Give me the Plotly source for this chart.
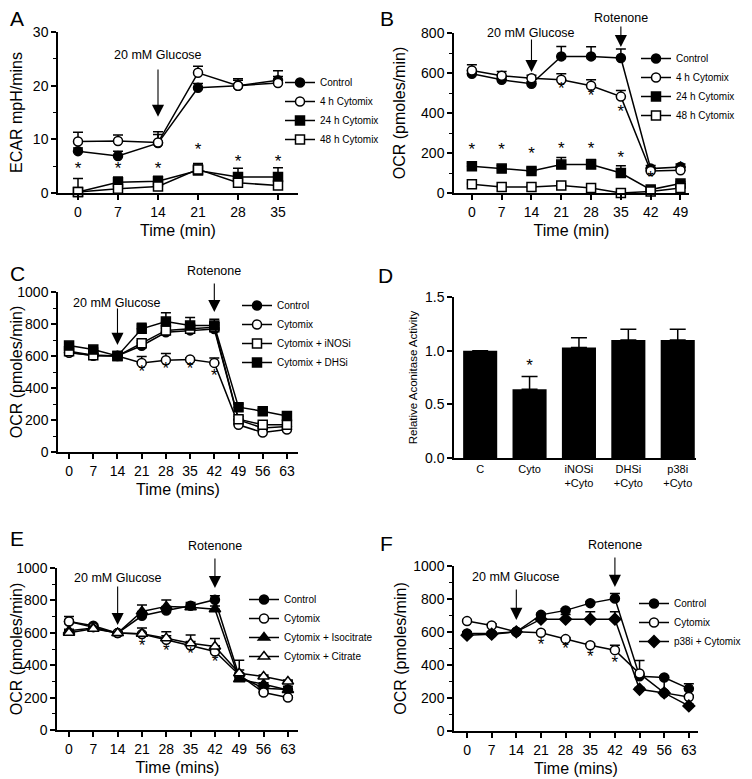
import plotly.graph_objects as go

# the page body keeps an 8 px margin, so the figure is drawn 8 px in and
# sized to end exactly at the window edge
OFF = 8
W, H = 752 - OFF, 779 - OFF
FONT = "Liberation Sans, Arial, sans-serif"

# ---- Panel A: ECAR ----
time_a = [0, 7, 14, 21, 28, 35]
a_control = [7.8, 6.9, 9.3, 19.6, 20.0, 21.0]
a_control_err = [0.6, 0.9, 1.6, 0.8, 1.0, 1.8]
a_4h = [9.6, 9.7, 9.4, 22.4, 20.0, 20.5]
a_4h_err = [1.7, 1.1, 2.0, 1.2, 1.3, 1.2]
a_24h = [0.2, 2.0, 2.2, 4.2, 3.0, 3.0]
a_24h_err = [0.3, 1.0, 0.9, 1.3, 1.6, 1.7]
a_48h = [0.2, 0.8, 1.2, 4.4, 1.9, 1.4]
a_48h_err = [2.5, 0.6, 0.6, 0.8, 0.6, 0.6]
a_star_x = [0, 7, 14, 21, 28, 35]
a_star_y = [4.3, 4.3, 4.3, 7.8, 5.6, 5.6]

# ---- Panel B: OCR ----
time_b = [0, 7, 14, 21, 28, 35, 42, 49]
b_control = [596, 566, 546, 683, 683, 675, 122, 130]
b_control_err = [15, 12, 10, 50, 48, 45, 15, 15]
b_4h = [613, 586, 574, 566, 536, 482, 110, 114]
b_4h_err = [28, 22, 15, 30, 30, 30, 15, 15]
b_24h = [134, 122, 110, 142, 142, 100, 17, 47]
b_24h_err = [15, 15, 15, 35, 25, 36, 10, 10]
b_48h = [44, 30, 30, 37, 25, 0, 8, 25]
b_48h_err = [5, 5, 5, 5, 5, 5, 5, 5]
b_star_x = [0, 7, 14, 21, 28, 35, 42, 49, 21, 28, 35]
b_star_y = [211, 211, 189, 214, 214, 172, 72, 122, 515, 479, 403]

# ---- Panel C: OCR with inhibitors ----
time_c = [0, 7, 14, 21, 28, 35, 42, 49, 56, 63]
c_control = [623, 602, 602, 664, 748, 760, 769, 200, 150, 160]
c_control_err = [10, 10, 5, 20, 25, 30, 40, 25, 30, 20]
c_cyto = [620, 605, 600, 557, 573, 578, 557, 170, 122, 140]
c_cyto_err = [10, 10, 5, 40, 42, 10, 30, 10, 10, 10]
c_inos = [630, 605, 600, 680, 760, 770, 780, 205, 170, 170]
c_inos_err = [10, 10, 5, 15, 15, 15, 20, 15, 15, 15]
c_dhs = [665, 640, 600, 770, 815, 790, 790, 280, 255, 225]
c_dhs_err = [10, 10, 5, 35, 55, 50, 40, 20, 15, 15]
c_star_x = [21, 28, 35, 42]
c_star_y = [494, 515, 515, 473]

# ---- Panel D: aconitase activity ----
d_cats = ["C", "Cyto", "iNOSi<br>+Cyto", "DHSi<br>+Cyto", "p38i<br>+Cyto"]
d_vals = [1.0, 0.64, 1.03, 1.10, 1.10]
d_err = [0, 0.12, 0.09, 0.10, 0.10]
d_star_x = ["Cyto"]
d_star_y = [0.85]

# ---- Panel E: OCR with isocitrate / citrate ----
e_control = [670, 643, 598, 705, 738, 767, 804, 330, 258, 250]
e_control_err = [10, 10, 5, 20, 20, 20, 25, 20, 20, 20]
e_cyto = [670, 635, 598, 592, 557, 522, 485, 340, 231, 200]
e_cyto_err = [30, 10, 5, 10, 25, 25, 35, 90, 10, 10]
e_iso = [612, 630, 598, 732, 763, 758, 746, 313, 282, 247]
e_iso_err = [10, 10, 5, 40, 40, 20, 20, 20, 10, 10]
e_cit = [600, 625, 598, 594, 567, 536, 515, 350, 330, 299]
e_cit_err = [10, 10, 5, 35, 40, 50, 50, 20, 10, 10]
e_star_x = [21, 28, 35, 42]
e_star_y = [515, 485, 464, 416]

# ---- Panel F: OCR with p38 inhibitor ----
f_control = [591, 591, 601, 704, 731, 775, 803, 332, 324, 257]
f_control_err = [10, 10, 5, 10, 10, 10, 30, 10, 10, 30]
f_cyto = [666, 640, 601, 595, 557, 520, 490, 348, 231, 206]
f_cyto_err = [10, 10, 5, 10, 10, 10, 30, 80, 10, 10]
f_p38 = [581, 587, 601, 678, 678, 678, 678, 253, 231, 152]
f_p38_err = [10, 10, 5, 28, 28, 44, 44, 10, 90, 10]
f_star_x = [21, 28, 35, 42]
f_star_y = [514, 490, 445, 409]


def px_x(p):
    return (p - OFF) / W


def px_y(p):
    return 1 - (p - OFF) / H


fig = go.Figure()


def add_series(n, x, y, err, name, symbol, filled, legend):
    suffix = "" if n == 1 else str(n)
    fig.add_trace(go.Scatter(
        x=x, y=y, name=name, mode="lines+markers",
        xaxis="x" + suffix, yaxis="y" + suffix, legend=legend,
        line=dict(color="black", width=1.5),
        marker=dict(symbol=symbol, size=9 if "triangle" not in symbol else 10,
                    color="black" if filled else "white",
                    line=dict(color="black", width=1.5)),
        error_y=dict(type="data", symmetric=False, array=err,
                     arrayminus=[0] * len(err), color="black",
                     thickness=1.5, width=5),
        cliponaxis=False,
    ))


def add_stars(n, x, y):
    suffix = "" if n == 1 else str(n)
    fig.add_trace(go.Scatter(
        x=x, y=y, mode="text", text=["*"] * len(x), showlegend=False,
        xaxis="x" + suffix, yaxis="y" + suffix, cliponaxis=False,
        textfont=dict(size=17, color="black", family=FONT),
        textposition="middle center",
    ))


add_series(1, time_a, a_control, a_control_err, "Control", "circle", True, "legend")
add_series(1, time_a, a_4h, a_4h_err, "4 h Cytomix", "circle", False, "legend")
add_series(1, time_a, a_24h, a_24h_err, "24 h Cytomix", "square", True, "legend")
add_series(1, time_a, a_48h, a_48h_err, "48 h Cytomix", "square", False, "legend")
add_stars(1, a_star_x, a_star_y)

add_series(2, time_b, b_control, b_control_err, "Control", "circle", True, "legend2")
add_series(2, time_b, b_4h, b_4h_err, "4 h Cytomix", "circle", False, "legend2")
add_series(2, time_b, b_24h, b_24h_err, "24 h Cytomix", "square", True, "legend2")
add_series(2, time_b, b_48h, b_48h_err, "48 h Cytomix", "square", False, "legend2")
add_stars(2, b_star_x, b_star_y)

add_series(3, time_c, c_control, c_control_err, "Control", "circle", True, "legend3")
add_series(3, time_c, c_cyto, c_cyto_err, "Cytomix", "circle", False, "legend3")
add_series(3, time_c, c_inos, c_inos_err, "Cytomix + iNOSi", "square", False, "legend3")
add_series(3, time_c, c_dhs, c_dhs_err, "Cytomix + DHSi", "square", True, "legend3")
add_stars(3, c_star_x, c_star_y)

fig.add_trace(go.Bar(
    x=d_cats, y=d_vals, xaxis="x4", yaxis="y4", showlegend=False,
    marker=dict(color="black", line=dict(width=0)), width=0.69,
    error_y=dict(type="data", symmetric=False, array=d_err,
                 arrayminus=[0] * len(d_err), color="black",
                 thickness=1.5, width=8),
))
add_stars(4, d_star_x, d_star_y)

add_series(5, time_c, e_control, e_control_err, "Control", "circle", True, "legend5")
add_series(5, time_c, e_cyto, e_cyto_err, "Cytomix", "circle", False, "legend5")
add_series(5, time_c, e_iso, e_iso_err, "Cytomix + Isocitrate", "triangle-up", True, "legend5")
add_series(5, time_c, e_cit, e_cit_err, "Cytomix + Citrate", "triangle-up", False, "legend5")
add_stars(5, e_star_x, e_star_y)

add_series(6, time_c, f_control, f_control_err, "Control", "circle", True, "legend6")
add_series(6, time_c, f_cyto, f_cyto_err, "Cytomix", "circle", False, "legend6")
add_series(6, time_c, f_p38, f_p38_err, "p38i + Cytomix", "diamond", True, "legend6")
add_stars(6, f_star_x, f_star_y)


def xaxis(n, left, right, rng, ticks, title):
    return dict(
        domain=[px_x(left), px_x(right)], range=rng, anchor="y" + ("" if n == 1 else str(n)),
        tickvals=ticks, showline=True, linecolor="black", linewidth=1.5,
        ticks="outside", ticklen=5, tickwidth=1.5, tickcolor="black",
        showgrid=False, zeroline=False, automargin=False,
        tickfont=dict(size=14, family=FONT, color="black"),
        title=dict(text=title, font=dict(size=16, family=FONT, color="black"), standoff=6),
    )


def yaxis(n, top, bottom, rng, dtick, title, standoff, tsize=16, minor=True, fmt=None):
    ax = dict(
        domain=[px_y(bottom), px_y(top)], range=rng, anchor="x" + ("" if n == 1 else str(n)),
        dtick=dtick, tick0=0, showline=True, linecolor="black", linewidth=1.5,
        ticks="outside", ticklen=5, tickwidth=1.5, tickcolor="black",
        showgrid=False, zeroline=False, automargin=False,
        tickfont=dict(size=14, family=FONT, color="black"),
        title=dict(text=title, font=dict(size=tsize, family=FONT, color="black"), standoff=standoff),
    )
    if minor:
        ax["minor"] = dict(ticks="outside", ticklen=3, tickwidth=1, tickcolor="black",
                           dtick=dtick / 2, showgrid=False)
    if fmt:
        ax["tickformat"] = fmt
    return ax


def legend_at(xpx, ypx):
    return dict(x=px_x(xpx), y=px_y(ypx), xanchor="left", yanchor="top",
                bgcolor="rgba(0,0,0,0)", itemwidth=30, tracegroupgap=0,
                font=dict(size=10, family=FONT, color="black"))


fig.update_layout(
    width=W, height=H, margin=dict(l=0, r=0, t=0, b=0, autoexpand=False),
    plot_bgcolor="white", paper_bgcolor="white",
    font=dict(family=FONT, color="black"),
    xaxis=xaxis(1, 58, 298, [-3.5, 38.5], time_a, "Time (min)"),
    yaxis=yaxis(1, 32, 193, [0, 30], 10, "ECAR mpH/mins", 16),
    xaxis2=xaxis(2, 454, 689, [-4.2, 51], time_b, "Time (min)"),
    yaxis2=yaxis(2, 33, 193, [0, 800], 200, "OCR (pmoles/min)", 11),
    xaxis3=xaxis(3, 58, 298, [-3.2, 66.2], time_c, "Time (mins)"),
    yaxis3=yaxis(3, 292, 452, [0, 1000], 200, "OCR (pmoles/min)", 4),
    xaxis4=dict(domain=[px_x(454), px_x(696)], range=[-0.53, 4.37], anchor="y4",
                showline=True, linecolor="black", linewidth=1.5, ticks="",
                showgrid=False, zeroline=False, automargin=False,
                tickfont=dict(size=11, family=FONT, color="black")),
    yaxis4=yaxis(4, 297, 458, [0, 1.5], 0.5, "Relative Aconitase Activity", 5,
                 tsize=11.5, minor=False, fmt=".1f"),
    xaxis5=xaxis(5, 57, 298, [-3.45, 65.9], time_c, "Time (mins)"),
    yaxis5=yaxis(5, 568, 730, [0, 1000], 200, "OCR (pmoles/min)", 4),
    xaxis6=xaxis(6, 454, 698, [-3.7, 65.6], time_c, "Time (mins)"),
    yaxis6=yaxis(6, 566, 731, [0, 1000], 200, "OCR (pmoles/min)", 3),
    legend=legend_at(280, 68),
    legend2=legend_at(636, 44),
    legend3=legend_at(237, 291),
    legend5=legend_at(244, 585),
    legend6=legend_at(634, 589),
    bargap=0.3,
)

annotations = []
for letter, xp, yp in [("A", 8, 5), ("B", 378, 5), ("C", 8, 260), ("D", 376, 262),
                       ("E", 8, 525), ("F", 378, 530)]:
    annotations.append(dict(text=letter, x=px_x(xp), y=px_y(yp), xref="paper", yref="paper",
                            xanchor="left", yanchor="top", showarrow=False,
                            font=dict(size=21, family=FONT, color="black")))


def label(n, x, ypx, text):
    s = "" if n == 1 else str(n)
    annotations.append(dict(text=text, x=x, y=px_y(ypx), xref="x" + s, yref="paper",
                            xanchor="center", yanchor="middle", showarrow=False,
                            font=dict(size=12.5, family=FONT, color="black")))


def arrow(n, x, tail, tip):
    s = "" if n == 1 else str(n)
    annotations.append(dict(text="", x=x, y=tip, ax=x, ay=tail, xref="x" + s, yref="y" + s,
                            axref="x" + s, ayref="y" + s, showarrow=True,
                            arrowhead=2, arrowsize=2.2, arrowwidth=1.1, arrowcolor="black"))


label(1, 14, 55, "20 mM Glucose")
arrow(1, 14, 23.3, 14.2)
label(2, 14, 33, "20 mM Glucose")
arrow(2, 14, 775, 605)
label(2, 35, 18, "Rotenone")
arrow(2, 35, 840, 730)
label(3, 14, 303, "20 mM Glucose")
arrow(3, 14, 906, 669)
label(3, 42, 271, "Rotenone")
arrow(3, 42, 1062, 875)
label(5, 14, 578, "20 mM Glucose")
arrow(5, 14, 895, 648)
label(5, 42, 546, "Rotenone")
arrow(5, 42, 1068, 876)
label(6, 14, 577, "20 mM Glucose")
arrow(6, 14, 867, 673)
label(6, 42, 545, "Rotenone")
arrow(6, 42, 1061, 873)

fig.update_layout(annotations=annotations)

fig.write_html("out.html")
